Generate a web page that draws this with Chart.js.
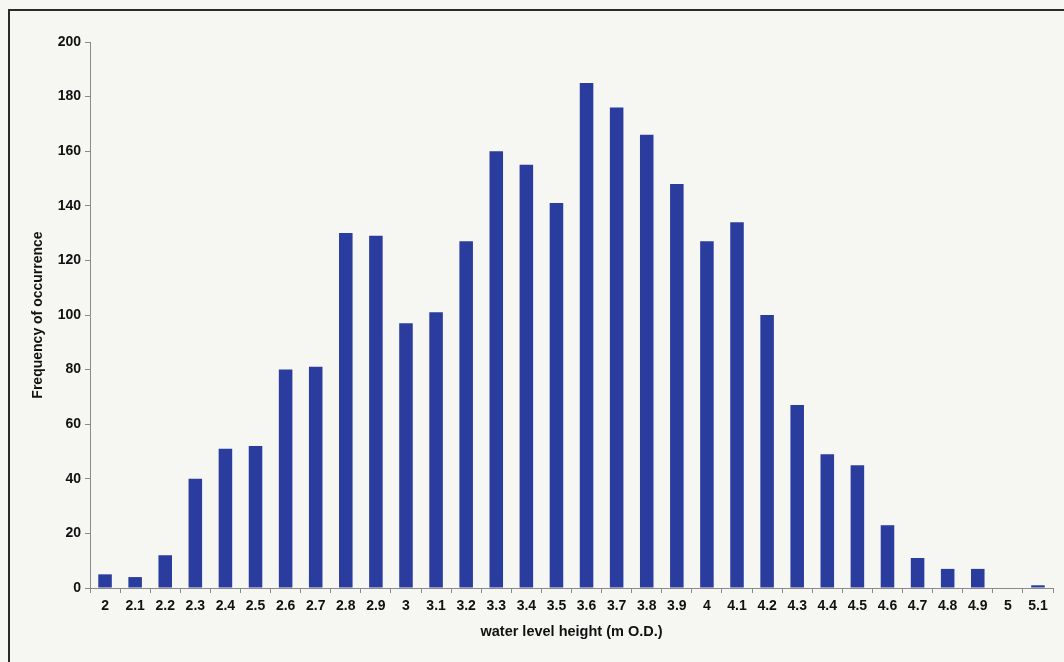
<!DOCTYPE html>
<html>
<head>
<meta charset="utf-8">
<script src="https://cdn.jsdelivr.net/npm/chart.js@4"></script>
<style>
  html, body { margin: 0; padding: 0; background: #f6f6f3; overflow: hidden; }
  #frame { position: absolute; left: 8px; top: 9px; width: 1100px; height: 700px; border: 2px solid #2a2a2a; }
  #wrap { position: absolute; left: 0; top: 0; width: 1064px; height: 662px; }
</style>
</head>
<body>
<div id="frame"></div>
<div id="wrap"><canvas id="chart"></canvas></div>
<script>
// 수위 빈도 데이터
const levels = ['2', '2.1', '2.2', '2.3', '2.4', '2.5', '2.6', '2.7', '2.8', '2.9',
    '3', '3.1', '3.2', '3.3', '3.4', '3.5', '3.6', '3.7', '3.8', '3.9',
    '4', '4.1', '4.2', '4.3', '4.4', '4.5', '4.6', '4.7', '4.8', '4.9', '5', '5.1'];
const frequency = [5, 4, 12, 40, 51, 52, 80, 81, 130, 129,
    97, 101, 127, 160, 155, 141, 185, 176, 166, 148,
    127, 134, 100, 67, 49, 45, 23, 11, 7, 7, 0, 1];
const yTicks = [0, 20, 40, 60, 80, 100, 120, 140, 160, 180, 200];

const font = { family: 'Liberation Sans, Arial, sans-serif', weight: 'bold', size: 14 };
const axisGrey = '#8a8a8a';

new Chart(document.getElementById('chart'), {
    type: 'bar',
    data: {
        labels: levels,
        datasets: [{
            label: 'Frequency',
            data: frequency,
            backgroundColor: '#2b3c9f',
            barPercentage: 0.45,
            categoryPercentage: 1
        }]
    },
    options: {
        responsive: true,
        maintainAspectRatio: false,
        animation: false,
        layout: { padding: { left: 0, right: 11, top: 42, bottom: 0 } },
        plugins: { legend: { display: false }, tooltip: { enabled: false } },
        scales: {
            x: {
                offset: true,
                grid: { drawOnChartArea: false, color: axisGrey, tickLength: 5, offset: true },
                border: { color: axisGrey, width: 1 },
                ticks: { color: '#111', font: font, padding: 5, maxRotation: 0, autoSkip: false },
                title: { display: true, text: 'water level height (m O.D.)', color: '#111', font: { ...font, size: 14.5 }, padding: { top: 4, bottom: 21 } },
                afterFit: (s) => { s.height = 74; }
            },
            y: {
                min: 0,
                max: 200,
                afterBuildTicks: (s) => { s.ticks = yTicks.map(v => ({ value: v })); },
                grid: { drawOnChartArea: false, color: axisGrey, tickLength: 5 },
                border: { color: axisGrey, width: 1 },
                ticks: { color: '#111', font: font, padding: 4 },
                title: { display: true, text: 'Frequency of occurrence', color: '#111', font: font, padding: { top: 30, bottom: 0 } },
                afterFit: (s) => { s.width = 90; }
            }
        }
    }
});
</script>
</body>
</html>
